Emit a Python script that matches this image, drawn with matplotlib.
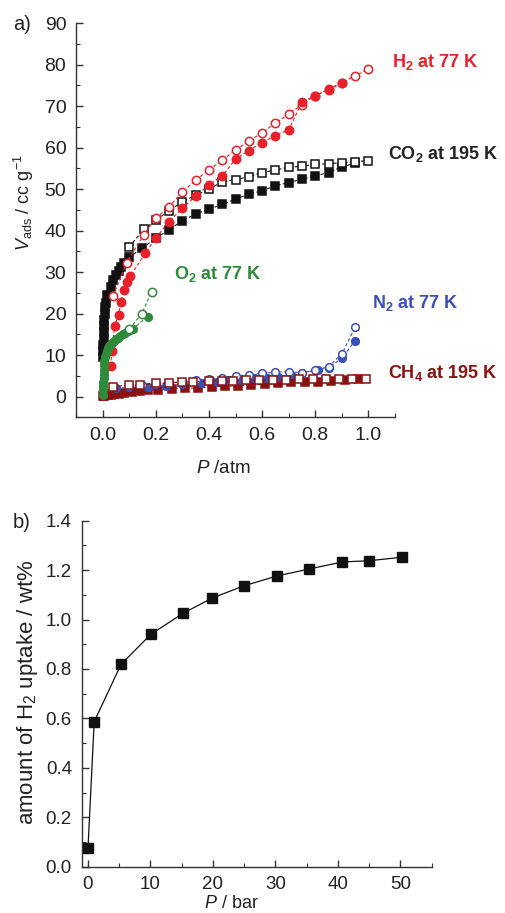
import matplotlib
matplotlib.use("Agg")
import matplotlib.pyplot as plt
from matplotlib.ticker import MultipleLocator, FormatStrFormatter

plt.rcParams['font.family'] = ['Liberation Sans', 'DejaVu Sans']
plt.rcParams['mathtext.fontset'] = 'custom'
plt.rcParams['mathtext.rm'] = 'Liberation Sans'
plt.rcParams['mathtext.it'] = 'Liberation Sans:italic'
plt.rcParams['mathtext.bf'] = 'Liberation Sans:bold'

# ---------------- Panel a data ----------------
h2_ads_p = [0.03, 0.035, 0.045, 0.06, 0.07, 0.08, 0.09, 0.105, 0.16, 0.2, 0.25, 0.3, 0.35, 0.4, 0.45, 0.5, 0.55,
            0.6, 0.65, 0.7, 0.75, 0.8, 0.85, 0.9]
h2_ads_v = [7.4, 11.0, 16.9, 19.7, 22.9, 25.7, 27.7, 29.1, 34.5, 38.2, 42.2, 45.4, 48.3, 51.0, 53.2, 57.2, 59.3,
            61.2, 62.9, 64.3, 71.0, 72.5, 74.0, 75.5]
h2_des_p = [0.04, 0.09, 0.155, 0.2, 0.25, 0.3, 0.35, 0.4, 0.45, 0.5, 0.55, 0.6, 0.65, 0.7, 0.75, 0.8, 0.85, 0.9,
            0.95, 1.0]
h2_des_v = [24.3, 32.3, 39.0, 43.0, 45.8, 49.2, 52.2, 54.6, 57.0, 59.4, 61.6, 63.6, 65.9, 68.1, 70.4, 72.5, 74.1,
            75.7, 77.3, 78.9]

co2_ads_p = [0.001, 0.002, 0.003, 0.004, 0.005, 0.006, 0.007, 0.008, 0.01, 0.012, 0.018, 0.03, 0.04, 0.05, 0.06,
             0.07, 0.08, 0.1, 0.15, 0.2, 0.25, 0.3, 0.35, 0.4, 0.45, 0.5, 0.55, 0.6, 0.65, 0.7, 0.75, 0.8, 0.85,
             0.9, 0.95]
co2_ads_v = [9.6, 11.0, 12.5, 14.0, 15.5, 17.0, 18.5, 20.0, 21.5, 22.5, 24.5, 26.5, 28.0, 29.3, 30.2, 31.2, 32.2,
             33.6, 35.8, 38.2, 40.2, 42.4, 44.0, 45.2, 46.3, 47.6, 48.8, 49.6, 50.8, 51.6, 52.4, 53.2, 54.0, 55.4,
             56.2]
co2_des_p = [0.1, 0.155, 0.2, 0.25, 0.3, 0.35, 0.4, 0.45, 0.5, 0.55, 0.6, 0.65, 0.7, 0.75, 0.8, 0.85, 0.9, 0.95, 1.0]
co2_des_v = [36.1, 40.3, 42.5, 44.8, 47.0, 48.5, 50.0, 51.8, 52.3, 53.0, 54.0, 54.6, 55.3, 55.5, 56.0, 56.1, 56.4,
             56.6, 56.9]

o2_ads_p = [0.002, 0.002, 0.003, 0.003, 0.004, 0.004, 0.005, 0.006, 0.007, 0.009, 0.012, 0.016, 0.02, 0.025,
            0.03, 0.036, 0.042, 0.05, 0.058, 0.066, 0.075, 0.085, 0.095, 0.105, 0.115, 0.17]
o2_ads_v = [0.5, 1.5, 2.5, 3.5, 4.5, 5.5, 6.5, 7.5, 8.5, 9.5, 10.3, 11.0, 11.6, 12.1, 12.6, 13.0, 13.4, 13.8, 14.2,
            14.6, 15.0, 15.4, 15.8, 16.1, 16.4, 19.3]
o2_des_p = [0.1, 0.148, 0.184]
o2_des_v = [16.3, 20.0, 25.3]

n2_ads_p = [0.05, 0.1, 0.17, 0.24, 0.3, 0.37, 0.43, 0.47, 0.52, 0.57, 0.62, 0.66, 0.71, 0.75, 0.81, 0.85, 0.9, 0.95]
n2_ads_v = [2.0, 2.2, 2.3, 2.6, 3.0, 3.3, 3.6, 3.9, 4.1, 4.4, 4.6, 4.8, 5.2, 5.8, 6.4, 7.0, 9.2, 13.5]
n2_des_p = [0.1, 0.15, 0.2, 0.25, 0.3, 0.35, 0.4, 0.45, 0.5, 0.55, 0.6, 0.65, 0.7, 0.75, 0.8, 0.85, 0.9, 0.95]
n2_des_v = [2.5, 2.8, 3.0, 3.3, 3.6, 3.9, 4.2, 4.6, 4.9, 5.2, 5.6, 5.9, 6.0, 5.8, 6.3, 7.2, 10.3, 16.7]

ch4_ads_p = [0.0, 0.005, 0.01, 0.02, 0.03, 0.04, 0.06, 0.08, 0.11, 0.14, 0.17, 0.21, 0.26, 0.31, 0.36, 0.41, 0.46,
             0.51, 0.56, 0.61, 0.66, 0.71, 0.76, 0.81, 0.86, 0.91, 0.96]
ch4_ads_v = [0.1, 0.2, 0.3, 0.4, 0.5, 0.6, 0.7, 0.8, 1.0, 1.3, 1.6, 1.7, 1.9, 2.0, 2.1, 2.3, 2.5, 2.6, 2.8, 3.0,
             3.2, 3.4, 3.5, 3.6, 3.7, 3.9, 4.2]
ch4_des_p = [0.04, 0.1, 0.14, 0.2, 0.25, 0.3, 0.34, 0.4, 0.45, 0.49, 0.54, 0.59, 0.64, 0.69, 0.74, 0.79, 0.84, 0.89,
             0.94, 0.99]
ch4_des_v = [2.4, 2.8, 2.8, 3.2, 3.3, 3.5, 3.5, 3.8, 3.8, 3.8, 4.0, 4.0, 4.0, 4.0, 4.2, 4.2, 4.2, 4.2, 4.2, 4.2]

# ---------------- Panel b data ----------------
b_p = [0.0, 1.0, 5.3, 10.1, 15.2, 19.8, 24.9, 30.2, 35.3, 40.7, 45.0, 50.2]
b_v = [0.074, 0.587, 0.819, 0.941, 1.025, 1.086, 1.136, 1.176, 1.204, 1.233, 1.238, 1.252]

RED = '#e8202a'
BLACK = '#111111'
GREEN = '#2e8b3a'
BLUE = '#3a4fb8'
DRED = '#8b1010'

fig = plt.figure(figsize=(5.05, 9.13), dpi=100)

axa = fig.add_axes([0.1505, 0.5429, 0.6317, 0.4317])
axb = fig.add_axes([0.1618, 0.0507, 0.693, 0.379])


def style(ax, labelsize):
    for s in ['top', 'right']:
        ax.spines[s].set_visible(False)
    for s in ['left', 'bottom']:
        ax.spines[s].set_color('#333333')
        ax.spines[s].set_linewidth(1.0)
    ax.tick_params(which='major', direction='in', length=5, width=1.0, colors='#333333',
                   labelsize=labelsize, labelcolor='#222222')
    ax.tick_params(which='minor', direction='in', length=3, width=0.8, colors='#333333')
    ax.tick_params(axis='y', pad=7)
    ax.tick_params(axis='x', pad=7)


def series(ax, p, v, color, marker, filled, ms):
    ax.plot(p, v, linestyle=(0, (3, 2)), lw=0.8, color=color, marker=marker, ms=ms,
            markerfacecolor=color if filled else 'white', markeredgecolor=color, markeredgewidth=1.1)


series(axa, ch4_ads_p, ch4_ads_v, DRED, 's', True, 6)
series(axa, n2_ads_p, n2_ads_v, BLUE, 'o', True, 5.5)
series(axa, n2_des_p, n2_des_v, BLUE, 'o', False, 5.5)
series(axa, ch4_des_p, ch4_des_v, DRED, 's', False, 6)
series(axa, co2_ads_p, co2_ads_v, BLACK, 's', True, 6)
series(axa, co2_des_p, co2_des_v, BLACK, 's', False, 6)
series(axa, h2_des_p, h2_des_v, RED, 'o', False, 6)
series(axa, h2_ads_p, h2_ads_v, RED, 'o', True, 6)
series(axa, o2_ads_p, o2_ads_v, GREEN, 'o', True, 5.5)
series(axa, o2_des_p, o2_des_v, GREEN, 'o', False, 6)

axa.set_xlim(-0.1, 1.1)
axa.set_ylim(-5, 90)
axa.xaxis.set_minor_locator(MultipleLocator(0.1))
axa.yaxis.set_major_locator(MultipleLocator(10))
axa.yaxis.set_minor_locator(MultipleLocator(5))
axa.set_xticks([0.0, 0.2, 0.4, 0.6, 0.8, 1.0])
axa.xaxis.set_major_formatter(FormatStrFormatter('%.1f'))
style(axa, 14)
axa.set_xlabel(r'$\mathit{P}$ /atm', fontsize=13.5, color='#222222')
axa.xaxis.set_label_coords(0.461, -0.129)
axa.xaxis.label.set_va('center')
axa.set_ylabel(r'$\mathit{V}_{\mathrm{ads}}$ / cc g$^{\mathrm{-1}}$', fontsize=13, color='#222222')
axa.yaxis.set_label_coords(-0.163, 0.544)
axa.yaxis.label.set_va('center')

txt = dict(fontsize=13, fontweight='bold', transform=axa.transData, va='center', ha='left', clip_on=False)
axa.text(1.088, 80.6, r'H$_\mathbf{2}$ at 77 K', color=RED, **txt)
axa.text(1.073, 58.5, r'CO$_\mathbf{2}$ at 195 K', color='#222222', **txt)
axa.text(0.267, 29.6, r'O$_\mathbf{2}$ at 77 K', color=GREEN, **txt)
axa.text(1.013, 22.6, r'N$_\mathbf{2}$ at 77 K', color=BLUE, **txt)
axa.text(1.073, 5.7, r'CH$_\mathbf{4}$ at 195 K', color=DRED, **txt)

axb.plot(b_p, b_v, color=BLACK, lw=0.9, marker='s', ms=7, markerfacecolor=BLACK, markeredgecolor=BLACK)
axb.set_xlim(-1, 55)
axb.set_ylim(0, 1.4)
axb.xaxis.set_minor_locator(MultipleLocator(5))
axb.yaxis.set_major_locator(MultipleLocator(0.2))
axb.yaxis.set_minor_locator(MultipleLocator(0.1))
axb.set_xticks([0, 10, 20, 30, 40, 50])
axb.yaxis.set_major_formatter(FormatStrFormatter('%.1f'))
style(axb, 13.5)
axb.set_xlabel(r'$\mathit{P}$ / bar', fontsize=13, color='#222222')
axb.xaxis.set_label_coords(0.429, -0.105)
axb.xaxis.label.set_va('center')
axb.set_ylabel(r'amount of H$_2$ uptake / wt%', fontsize=16, color='#222222')
axb.yaxis.set_label_coords(-0.156, 0.505)
axb.yaxis.label.set_va('center')

fig.text(13 / 505, 1 - 25 / 913, 'a)', fontsize=14.5, color='#222222', va='center', ha='left')
fig.text(13 / 505, 1 - 522 / 913, 'b)', fontsize=14.5, color='#222222', va='center', ha='left')

fig.savefig('out.png', dpi=100)
